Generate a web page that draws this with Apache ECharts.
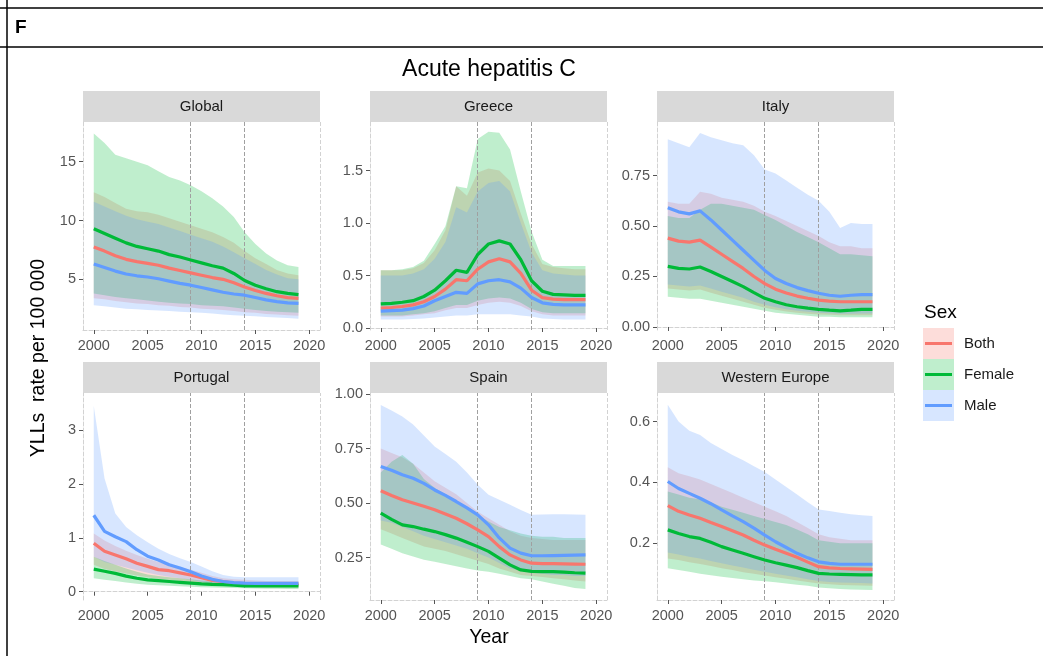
<!DOCTYPE html>
<html><head><meta charset="utf-8">
<script src="https://cdn.jsdelivr.net/npm/echarts@6/dist/echarts.min.js"></script>
<style>html,body{margin:0;padding:0;background:#fff}#chart{width:1043px;height:656px}</style>
</head><body><div id="chart"></div>
<script>
// ---------------- DATA ----------------
const years = [2000,2001,2002,2003,2004,2005,2006,2007,2008,2009,2010,2011,2012,2013,2014,2015,2016,2017,2018,2019];
const xTicks = [2000, 2005, 2010, 2015, 2020];
const vlineYears = [2009, 2014];
const panelNames = ['Global', 'Greece', 'Italy', 'Portugal', 'Spain', 'Western Europe'];
const sexNames = ['Both', 'Female', 'Male'];

const globalTicks = [5, 10, 15];
const greeceTicks = [0, 0.5, 1.0, 1.5];
const italyTicks = [0, 0.25, 0.5, 0.75];
const portugalTicks = [0, 1, 2, 3];
const spainTicks = [0.25, 0.5, 0.75, 1.0];
const westernEuropeTicks = [0.2, 0.4, 0.6];

// Global
const globalBothMean = [7.75,7.4,7.0,6.7,6.5,6.35,6.2,5.95,5.75,5.55,5.35,5.15,5.0,4.7,4.35,4.05,3.8,3.6,3.45,3.38];
const globalBothLo = [3.4,3.3,3.15,3.05,2.95,2.9,2.8,2.75,2.65,2.6,2.5,2.45,2.4,2.3,2.2,2.15,2.05,2.0,1.95,1.9];
const globalBothHi = [12.4,12.0,11.5,11.0,10.8,10.7,10.5,10.2,9.9,9.6,9.3,9.0,8.6,8.1,7.4,6.8,6.3,5.8,5.5,5.35];
const globalFemaleMean = [9.3,8.9,8.5,8.1,7.8,7.6,7.4,7.1,6.9,6.65,6.4,6.15,5.95,5.5,4.9,4.5,4.2,3.95,3.8,3.7];
const globalFemaleLo = [3.8,3.65,3.5,3.4,3.3,3.2,3.1,3.0,2.95,2.9,2.8,2.75,2.7,2.6,2.5,2.4,2.3,2.25,2.2,2.15];
const globalFemaleHi = [17.4,16.6,15.6,15.3,15.0,14.7,14.2,13.7,13.4,13.0,12.5,11.9,11.2,10.3,9.0,8.0,7.2,6.6,6.2,6.05];
const globalMaleMean = [6.3,6.0,5.7,5.45,5.3,5.2,5.05,4.85,4.65,4.5,4.3,4.1,3.9,3.75,3.65,3.45,3.25,3.1,3.0,2.95];
const globalMaleLo = [2.8,2.7,2.6,2.5,2.45,2.4,2.35,2.3,2.25,2.2,2.15,2.1,2.0,1.95,1.9,1.85,1.8,1.75,1.7,1.65];
const globalMaleHi = [11.6,11.2,10.8,10.4,10.1,9.9,9.7,9.4,9.1,8.8,8.5,8.2,7.8,7.3,6.8,6.3,5.8,5.4,5.1,5.0];

// Greece
const greeceBothMean = [0.19,0.195,0.205,0.22,0.25,0.30,0.37,0.46,0.45,0.56,0.63,0.66,0.63,0.52,0.36,0.29,0.275,0.27,0.27,0.27];
const greeceBothLo = [0.11,0.11,0.11,0.12,0.13,0.14,0.17,0.19,0.19,0.22,0.24,0.25,0.24,0.21,0.16,0.13,0.12,0.12,0.12,0.12];
const greeceBothHi = [0.55,0.55,0.55,0.57,0.62,0.74,0.93,1.35,1.26,1.48,1.52,1.50,1.40,1.09,0.80,0.61,0.58,0.57,0.56,0.56];
const greeceFemaleMean = [0.23,0.235,0.245,0.26,0.30,0.36,0.45,0.55,0.53,0.70,0.80,0.83,0.80,0.65,0.45,0.35,0.32,0.315,0.31,0.31];
const greeceFemaleLo = [0.12,0.12,0.12,0.13,0.14,0.16,0.19,0.22,0.22,0.26,0.28,0.29,0.28,0.24,0.18,0.15,0.14,0.14,0.14,0.14];
const greeceFemaleHi = [0.55,0.55,0.56,0.58,0.64,0.80,0.97,1.35,1.33,1.80,1.87,1.86,1.70,1.30,0.92,0.65,0.59,0.59,0.59,0.59];
const greeceMaleMean = [0.16,0.165,0.17,0.185,0.21,0.26,0.30,0.34,0.33,0.42,0.45,0.46,0.44,0.38,0.29,0.24,0.225,0.22,0.22,0.22];
const greeceMaleLo = [0.08,0.08,0.08,0.085,0.09,0.10,0.11,0.12,0.12,0.13,0.13,0.13,0.13,0.12,0.11,0.09,0.085,0.08,0.08,0.08];
const greeceMaleHi = [0.50,0.50,0.50,0.52,0.56,0.66,0.82,1.15,1.10,1.30,1.38,1.40,1.30,1.00,0.72,0.55,0.52,0.51,0.50,0.50];

// Italy
const italyBothMean = [0.44,0.425,0.42,0.43,0.395,0.36,0.325,0.29,0.25,0.215,0.187,0.168,0.153,0.142,0.133,0.128,0.125,0.125,0.125,0.125];
const italyBothLo = [0.19,0.185,0.18,0.185,0.17,0.155,0.14,0.125,0.11,0.095,0.085,0.077,0.07,0.066,0.062,0.06,0.058,0.058,0.058,0.058];
const italyBothHi = [0.62,0.61,0.61,0.67,0.66,0.64,0.63,0.62,0.60,0.57,0.55,0.525,0.50,0.475,0.45,0.42,0.40,0.40,0.39,0.39];
const italyFemaleMean = [0.30,0.29,0.287,0.297,0.275,0.25,0.225,0.20,0.17,0.142,0.125,0.11,0.10,0.093,0.087,0.083,0.08,0.083,0.087,0.087];
const italyFemaleLo = [0.15,0.145,0.14,0.14,0.13,0.12,0.11,0.10,0.09,0.08,0.07,0.065,0.06,0.055,0.05,0.05,0.048,0.048,0.048,0.048];
const italyFemaleHi = [0.55,0.54,0.54,0.58,0.61,0.61,0.60,0.59,0.58,0.555,0.53,0.50,0.47,0.445,0.42,0.39,0.36,0.36,0.355,0.35];
const italyMaleMean = [0.59,0.57,0.56,0.575,0.53,0.48,0.43,0.38,0.33,0.28,0.24,0.215,0.195,0.18,0.167,0.157,0.152,0.157,0.16,0.16];
const italyMaleLo = [0.21,0.205,0.2,0.205,0.19,0.175,0.16,0.145,0.125,0.11,0.098,0.088,0.08,0.075,0.07,0.068,0.066,0.066,0.067,0.067];
const italyMaleHi = [0.93,0.91,0.89,0.96,0.94,0.925,0.91,0.90,0.85,0.78,0.76,0.725,0.69,0.655,0.625,0.57,0.49,0.515,0.51,0.51];

// Portugal
const portugalBothMean = [0.90,0.75,0.68,0.61,0.53,0.47,0.41,0.39,0.35,0.31,0.26,0.21,0.19,0.16,0.15,0.14,0.14,0.14,0.14,0.14];
const portugalBothLo = [0.5,0.42,0.38,0.34,0.3,0.27,0.24,0.22,0.2,0.18,0.155,0.13,0.115,0.1,0.09,0.085,0.085,0.085,0.085,0.085];
const portugalBothHi = [1.08,0.95,0.85,0.76,0.68,0.61,0.55,0.5,0.46,0.41,0.35,0.29,0.25,0.23,0.22,0.21,0.2,0.2,0.2,0.2];
const portugalFemaleMean = [0.42,0.38,0.34,0.29,0.25,0.22,0.205,0.19,0.175,0.16,0.145,0.135,0.13,0.12,0.11,0.11,0.11,0.11,0.11,0.11];
const portugalFemaleLo = [0.25,0.22,0.2,0.17,0.15,0.13,0.12,0.11,0.1,0.09,0.085,0.08,0.075,0.07,0.065,0.06,0.055,0.055,0.05,0.05];
const portugalFemaleHi = [0.65,0.57,0.5,0.43,0.37,0.32,0.29,0.27,0.25,0.23,0.21,0.19,0.18,0.17,0.165,0.16,0.16,0.16,0.16,0.16];
const portugalMaleMean = [1.42,1.12,1.02,0.93,0.78,0.66,0.59,0.50,0.44,0.37,0.29,0.23,0.19,0.17,0.16,0.155,0.155,0.155,0.155,0.155];
const portugalMaleLo = [0.65,0.55,0.5,0.45,0.4,0.35,0.31,0.28,0.25,0.22,0.18,0.15,0.13,0.11,0.1,0.095,0.095,0.095,0.095,0.095];
const portugalMaleHi = [3.45,2.1,1.45,1.2,1.05,0.92,0.8,0.7,0.62,0.55,0.47,0.38,0.31,0.28,0.27,0.27,0.27,0.27,0.27,0.27];

// Spain
const spainBothMean = [0.556,0.535,0.515,0.50,0.485,0.469,0.45,0.43,0.405,0.377,0.346,0.30,0.262,0.239,0.224,0.222,0.222,0.221,0.22,0.219];
const spainBothLo = [0.38,0.36,0.34,0.32,0.3,0.29,0.28,0.265,0.25,0.235,0.22,0.2,0.185,0.17,0.165,0.16,0.155,0.15,0.145,0.14];
const spainBothHi = [0.75,0.73,0.71,0.68,0.64,0.60,0.57,0.54,0.50,0.46,0.43,0.40,0.37,0.35,0.34,0.335,0.33,0.33,0.33,0.33];
const spainFemaleMean = [0.454,0.425,0.40,0.392,0.38,0.369,0.355,0.339,0.32,0.30,0.278,0.247,0.216,0.193,0.186,0.185,0.185,0.183,0.18,0.178];
const spainFemaleLo = [0.31,0.29,0.27,0.255,0.24,0.23,0.22,0.21,0.20,0.19,0.185,0.175,0.165,0.155,0.15,0.14,0.13,0.12,0.11,0.105];
const spainFemaleHi = [0.64,0.69,0.72,0.68,0.61,0.57,0.54,0.51,0.48,0.445,0.415,0.39,0.375,0.36,0.35,0.345,0.345,0.34,0.34,0.34];
const spainMaleMean = [0.668,0.65,0.63,0.614,0.59,0.56,0.535,0.507,0.478,0.446,0.40,0.34,0.293,0.27,0.258,0.258,0.259,0.26,0.261,0.262];
const spainMaleLo = [0.42,0.41,0.39,0.37,0.35,0.335,0.32,0.305,0.29,0.27,0.25,0.225,0.2,0.19,0.18,0.175,0.17,0.17,0.165,0.165];
const spainMaleHi = [0.95,0.925,0.897,0.86,0.81,0.76,0.725,0.69,0.64,0.584,0.538,0.515,0.492,0.468,0.446,0.447,0.449,0.448,0.447,0.446];

// Western Europe
const westernEuropeBothMean = [0.324,0.305,0.293,0.282,0.268,0.255,0.241,0.227,0.21,0.194,0.18,0.167,0.154,0.138,0.123,0.119,0.117,0.116,0.115,0.114];
const westernEuropeBothLo = [0.15,0.145,0.138,0.132,0.125,0.118,0.112,0.105,0.1,0.094,0.088,0.083,0.078,0.073,0.068,0.065,0.063,0.062,0.061,0.06];
const westernEuropeBothHi = [0.45,0.43,0.42,0.41,0.395,0.38,0.365,0.35,0.335,0.32,0.305,0.29,0.27,0.25,0.23,0.22,0.215,0.21,0.21,0.21];
const westernEuropeFemaleMean = [0.244,0.232,0.222,0.216,0.203,0.189,0.178,0.167,0.156,0.145,0.136,0.128,0.12,0.11,0.101,0.099,0.098,0.097,0.096,0.096];
const westernEuropeFemaleLo = [0.118,0.112,0.106,0.1,0.095,0.09,0.086,0.082,0.078,0.075,0.072,0.068,0.064,0.06,0.055,0.052,0.05,0.048,0.047,0.046];
const westernEuropeFemaleHi = [0.37,0.36,0.35,0.345,0.335,0.32,0.31,0.3,0.29,0.28,0.27,0.26,0.245,0.23,0.21,0.205,0.2,0.2,0.2,0.2];
const westernEuropeMaleMean = [0.403,0.38,0.364,0.348,0.33,0.31,0.29,0.271,0.25,0.227,0.205,0.186,0.167,0.152,0.139,0.134,0.131,0.131,0.131,0.131];
const westernEuropeMaleLo = [0.17,0.163,0.156,0.15,0.142,0.134,0.127,0.12,0.113,0.106,0.1,0.094,0.088,0.082,0.076,0.073,0.071,0.07,0.069,0.068];
const westernEuropeMaleHi = [0.655,0.60,0.57,0.556,0.53,0.51,0.49,0.473,0.453,0.434,0.41,0.385,0.36,0.335,0.311,0.306,0.30,0.295,0.292,0.29];

// ---------------- ASSEMBLY ----------------
const panelData = [
  {ticks: globalTicks, dec: 0, series: [[globalBothMean, globalBothLo, globalBothHi], [globalFemaleMean, globalFemaleLo, globalFemaleHi], [globalMaleMean, globalMaleLo, globalMaleHi]]},
  {ticks: greeceTicks, dec: 1, series: [[greeceBothMean, greeceBothLo, greeceBothHi], [greeceFemaleMean, greeceFemaleLo, greeceFemaleHi], [greeceMaleMean, greeceMaleLo, greeceMaleHi]]},
  {ticks: italyTicks, dec: 2, series: [[italyBothMean, italyBothLo, italyBothHi], [italyFemaleMean, italyFemaleLo, italyFemaleHi], [italyMaleMean, italyMaleLo, italyMaleHi]]},
  {ticks: portugalTicks, dec: 0, series: [[portugalBothMean, portugalBothLo, portugalBothHi], [portugalFemaleMean, portugalFemaleLo, portugalFemaleHi], [portugalMaleMean, portugalMaleLo, portugalMaleHi]]},
  {ticks: spainTicks, dec: 2, series: [[spainBothMean, spainBothLo, spainBothHi], [spainFemaleMean, spainFemaleLo, spainFemaleHi], [spainMaleMean, spainMaleLo, spainMaleHi]]},
  {ticks: westernEuropeTicks, dec: 1, series: [[westernEuropeBothMean, westernEuropeBothLo, westernEuropeBothHi], [westernEuropeFemaleMean, westernEuropeFemaleLo, westernEuropeFemaleHi], [westernEuropeMaleMean, westernEuropeMaleLo, westernEuropeMaleHi]]}
];

// ---------------- LAYOUT / STYLE ----------------
const yLimits = [[0.69, 18.38], [-0.019, 1.962], [-0.015, 1.015], [-0.154, 3.69], [0.055, 1.005], [0.0135, 0.694]];
const xLimits = [1999, 2021];
const colLeft = [83, 370, 657];
const rowTop = [122, 393];
const panelW = 237;
const panelH = [208, 207];
const stripH = 31;
const FONT = 'Liberation Sans, Arial, Helvetica, sans-serif';
const lineColors = ['#F8766D', '#00BA38', '#619CFF'];
const fillColors = ['rgba(248,118,109,0.25)', 'rgba(0,186,56,0.25)', 'rgba(97,156,255,0.25)'];
const tickColor = '#555555';
const borderColor = '#d2d2d2';
const vlineColor = '#a0a0a0';

const grids = [], xAxes = [], yAxes = [], series = [], graphics = [];

panelData.forEach((p, i) => {
  const r = Math.floor(i / 3), c = i % 3;
  grids.push({left: colLeft[c], top: rowTop[r], width: panelW, height: panelH[r], containLabel: false});
  xAxes.push({
    type: 'value', gridIndex: i, min: xLimits[0], max: xLimits[1],
    axisLine: {show: true, lineStyle: {color: borderColor, type: 'dashed', width: 1}},
    axisTick: {show: true, length: 4, customValues: xTicks, lineStyle: {color: tickColor}},
    axisLabel: {customValues: xTicks, color: tickColor, fontSize: 14.5, fontFamily: FONT, margin: 8, formatter: v => String(v)},
    splitLine: {show: false}
  });
  yAxes.push({
    type: 'value', gridIndex: i, min: yLimits[i][0], max: yLimits[i][1],
    axisLine: {show: true, lineStyle: {color: borderColor, type: 'dashed', width: 1}},
    axisTick: {show: true, length: 4, customValues: p.ticks, lineStyle: {color: tickColor}},
    axisLabel: {customValues: p.ticks, color: tickColor, fontSize: 14.5, fontFamily: FONT, margin: 7, formatter: v => Number(v).toFixed(p.dec)},
    splitLine: {show: false}
  });
  // ribbons
  p.series.forEach((s, k) => {
    const lo = s[1], hi = s[2];
    series.push({
      type: 'custom', name: sexNames[k], xAxisIndex: i, yAxisIndex: i, silent: true, z: 1,
      clip: true,
      data: years.map((yr, j) => [yr, lo[j], hi[j]]),
      encode: {x: 0, y: [1, 2]},
      renderItem: function (params, api) {
        if (params.dataIndex !== 0) return null;
        const pts = [];
        for (let j = 0; j < years.length; j++) pts.push(api.coord([years[j], hi[j]]));
        for (let j = years.length - 1; j >= 0; j--) pts.push(api.coord([years[j], lo[j]]));
        return {type: 'polygon', shape: {points: pts}, style: {fill: fillColors[k], stroke: null}};
      }
    });
  });
  // lines
  p.series.forEach((s, k) => {
    const ser = {
      type: 'line', name: sexNames[k], xAxisIndex: i, yAxisIndex: i, z: 3, silent: true,
      data: years.map((yr, j) => [yr, s[0][j]]),
      showSymbol: false, symbol: 'none', smooth: false, animation: false,
      lineStyle: {color: lineColors[k], width: 3.2},
      itemStyle: {color: lineColors[k]}
    };
    if (k === 0) {
      ser.markLine = {
        silent: true, symbol: 'none', animation: false, z: 2,
        label: {show: false},
        lineStyle: {color: vlineColor, type: 'dashed', width: 1},
        data: vlineYears.map(v => ({xAxis: v})).concat([{xAxis: xLimits[1], lineStyle: {color: borderColor, type: 'dashed', width: 1}}])
      };
    }
    series.push(ser);
  });
  // strip
  graphics.push({type: 'rect', silent: true, shape: {x: colLeft[c], y: rowTop[r] - stripH, width: panelW, height: stripH}, style: {fill: '#D9D9D9'}});
  graphics.push({type: 'text', silent: true, x: colLeft[c] + panelW / 2, y: rowTop[r] - stripH / 2,
    style: {text: panelNames[i], font: '15px ' + FONT, fill: '#1A1A1A', align: 'center', verticalAlign: 'middle', textAlign: 'center', textVerticalAlign: 'middle'}});
});

// frame of the figure cell
graphics.push({type: 'line', silent: true, shape: {x1: 0, y1: 8, x2: 1043, y2: 8}, style: {stroke: '#000', lineWidth: 1.5}});
graphics.push({type: 'line', silent: true, shape: {x1: 0, y1: 47, x2: 1043, y2: 47}, style: {stroke: '#000', lineWidth: 1.5}});
graphics.push({type: 'line', silent: true, shape: {x1: 7, y1: 0, x2: 7, y2: 656}, style: {stroke: '#000', lineWidth: 1.5}});
graphics.push({type: 'text', silent: true, x: 15, y: 28, style: {text: 'F', font: 'bold 19px ' + FONT, fill: '#000', align: 'left', verticalAlign: 'middle', textAlign: 'left', textVerticalAlign: 'middle'}});

// titles
graphics.push({type: 'text', silent: true, x: 489, y: 70, style: {text: 'Acute hepatitis C', font: '23px ' + FONT, fill: '#000', align: 'center', verticalAlign: 'middle', textAlign: 'center', textVerticalAlign: 'middle'}});
graphics.push({type: 'text', silent: true, x: 489, y: 638, style: {text: 'Year', font: '19.5px ' + FONT, fill: '#000', align: 'center', verticalAlign: 'middle', textAlign: 'center', textVerticalAlign: 'middle'}});
graphics.push({type: 'text', silent: true, x: 39, y: 358, rotation: Math.PI / 2, style: {text: 'YLLs  rate per 100 000', font: '19.5px ' + FONT, fill: '#000', align: 'center', verticalAlign: 'middle', textAlign: 'center', textVerticalAlign: 'middle'}});

// legend
graphics.push({type: 'text', silent: true, x: 924, y: 313, style: {text: 'Sex', font: '19px ' + FONT, fill: '#000', align: 'left', verticalAlign: 'middle', textAlign: 'left', textVerticalAlign: 'middle'}});
sexNames.forEach((nm, k) => {
  const y0 = 328 + k * 31;
  graphics.push({type: 'rect', silent: true, shape: {x: 923, y: y0, width: 31, height: 31}, style: {fill: fillColors[k]}});
  graphics.push({type: 'line', silent: true, shape: {x1: 925, y1: y0 + 15.5, x2: 952, y2: y0 + 15.5}, style: {stroke: lineColors[k], lineWidth: 3}});
  graphics.push({type: 'text', silent: true, x: 964, y: y0 + 15.5, style: {text: nm, font: '15px ' + FONT, fill: '#1A1A1A', align: 'left', verticalAlign: 'middle', textAlign: 'left', textVerticalAlign: 'middle'}});
});

const chart = echarts.init(document.getElementById('chart'), null, {renderer: 'canvas'});
chart.setOption({
  animation: false,
  backgroundColor: '#ffffff',
  textStyle: {fontFamily: FONT},
  grid: grids, xAxis: xAxes, yAxis: yAxes, series: series, graphic: graphics
});
</script></body></html>
